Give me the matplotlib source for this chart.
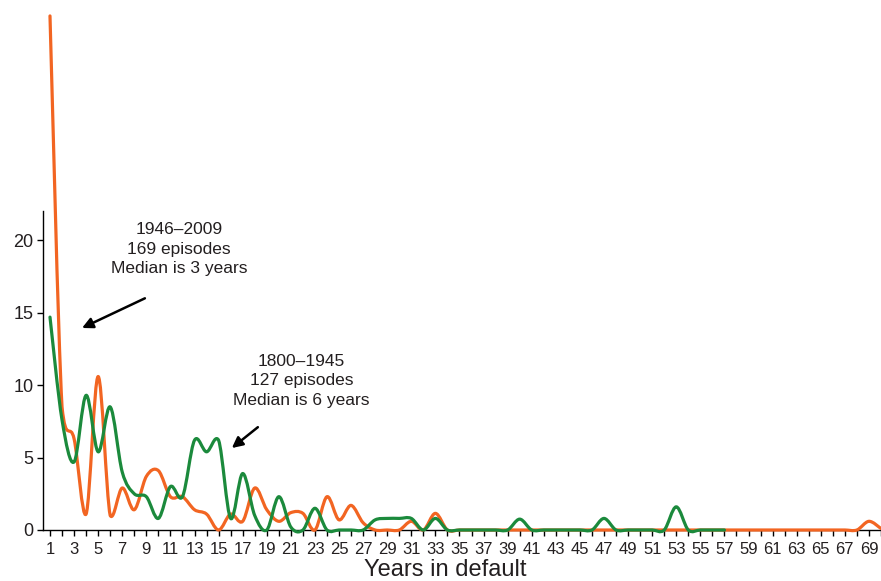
import numpy as np
import matplotlib.pyplot as plt
from matplotlib.path import Path
from matplotlib.patches import PathPatch

plt.rcParams['font.family'] = ['Liberation Sans', 'DejaVu Sans']

# ================= DATA =================
# share of default episodes (%) by number of years in default
years_green = list(range(1, 58))
pct_1800_1945 = [14.7, 7.6, 4.7, 9.3, 5.4, 8.5, 4.0, 2.5, 2.3, 0.8,
                 3.0, 2.3, 6.2, 5.4, 6.2, 0.8, 3.9, 1.0, 0.0, 2.3,
                 0.2, 0.0, 1.5, 0.0, 0.0, 0.0, 0.0, 0.7, 0.8, 0.8,
                 0.8, 0.0, 0.8, 0.0, 0.0, 0.0, 0.0, 0.0, 0.0, 0.75,
                 0.0, 0.0, 0.0, 0.0, 0.0, 0.0, 0.8, 0.0, 0.0, 0.0,
                 0.0, 0.0, 1.6, 0.0, 0.0, 0.0, 0.0]

years_orange = list(range(1, 71))
pct_1946_2009 = [35.5, 8.5, 6.3, 1.1, 10.6, 1.0, 2.9, 1.4, 3.7, 4.1,
                 2.3, 2.3, 1.4, 1.1, 0.0, 1.1, 0.6, 2.9, 1.4, 0.6,
                 1.2, 1.15, 0.0, 2.3, 0.7, 1.7, 0.5, 0.0, 0.0, 0.0,
                 0.6, 0.0, 1.15, 0.0, 0.0, 0.0, 0.0, 0.0, 0.0, 0.0,
                 0.0, 0.0, 0.0, 0.0, 0.0, 0.0, 0.0, 0.0, 0.0, 0.0,
                 0.0, 0.0, 0.0, 0.0, 0.0, 0.0, 0.0, 0.0, 0.0, 0.0,
                 0.0, 0.0, 0.0, 0.0, 0.0, 0.0, 0.0, 0.0, 0.6, 0.1]

x_ticks = list(range(1, 71))
x_ticklabels = [str(n) if n % 2 == 1 else '' for n in x_ticks]
y_ticks = [0, 5, 10, 15, 20]

GREEN = '#1b8a3c'
ORANGE = '#f26522'
TEXT = '#231f20'


def smooth_path(xs, ys, slack=0.5):
    # smoothed line (cubic bezier through the points), control points kept
    # close to the segment so steep drops do not swing too far
    p = np.column_stack([xs, ys]).astype(float)
    verts = [p[0]]
    codes = [Path.MOVETO]
    n = len(p)
    for i in range(n - 1):
        p0 = p[i - 1] if i > 0 else p[i]
        p3 = p[i + 2] if i + 2 < n else p[i + 1]
        c1 = p[i] + (p[i + 1] - p0) / 6.0
        c2 = p[i + 1] - (p3 - p[i]) / 6.0
        lo = min(p[i][1], p[i + 1][1]) - slack
        hi = max(p[i][1], p[i + 1][1]) + slack
        c1[1] = np.clip(c1[1], lo, hi)
        c2[1] = np.clip(c2[1], lo, hi)
        verts += [c1, c2, p[i + 1]]
        codes += [Path.CURVE4] * 3
    return Path(verts, codes)


fig = plt.figure(figsize=(8.81, 5.81), dpi=100)
ax = fig.add_axes([43 / 881, 51 / 581, 838 / 881, 530 / 581])

ax.add_patch(PathPatch(smooth_path(years_orange, pct_1946_2009), fill=False,
                       edgecolor=ORANGE, lw=2.3, capstyle='round',
                       joinstyle='round', clip_on=False, zorder=3))
ax.add_patch(PathPatch(smooth_path(years_green, pct_1800_1945), fill=False,
                       edgecolor=GREEN, lw=2.3, capstyle='round',
                       joinstyle='round', clip_on=False, zorder=4))

ax.set_xlim(0.42, 69.96)
ax.set_ylim(0, 36.6)

for side in ['top', 'right']:
    ax.spines[side].set_visible(False)
ax.spines['left'].set_bounds(0, 22)
ax.spines['left'].set_linewidth(1.0)
ax.spines['bottom'].set_linewidth(1.0)

ax.set_xticks(x_ticks)
ax.set_xticklabels(x_ticklabels)
ax.set_yticks(y_ticks)
ax.tick_params(axis='x', length=4.5, width=1.0, pad=4.5, labelsize=12,
               labelcolor=TEXT)
ax.tick_params(axis='y', length=4.5, width=1.0, pad=2.5, labelsize=13,
               labelcolor=TEXT)
ax.set_xlabel("Years in default", fontsize=17, color=TEXT)
ax.xaxis.set_label_coords(0.48, -0.054)

ax.text(11.7, 19.4, "1946\u20132009\n169 episodes\nMedian is 3 years",
        ha='center', va='center', fontsize=12.5, color=TEXT, linespacing=1.35)
ax.annotate("", xy=(3.66, 13.95), xytext=(8.88, 16.0),
            arrowprops=dict(arrowstyle='-|>', color='black', lw=1.8,
                            mutation_scale=16, shrinkA=0, shrinkB=0))

ax.text(21.9, 10.3, "1800\u20131945\n127 episodes\nMedian is 6 years",
        ha='center', va='center', fontsize=12.5, color=TEXT, linespacing=1.35)
ax.annotate("", xy=(16.1, 5.66), xytext=(18.26, 7.1),
            arrowprops=dict(arrowstyle='-|>', color='black', lw=1.8,
                            mutation_scale=16, shrinkA=0, shrinkB=0))

fig.savefig("out.png", dpi=100)
